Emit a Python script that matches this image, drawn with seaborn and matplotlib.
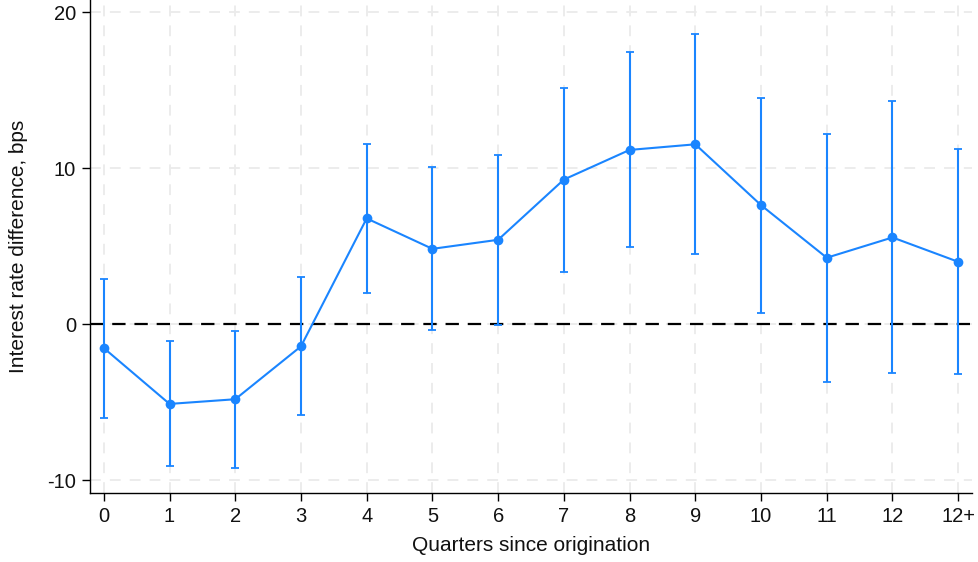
import matplotlib
matplotlib.use("Agg")
import matplotlib.pyplot as plt
import seaborn as sns
import pandas as pd
import numpy as np

# Estimated interest rate differences (bps) by quarters since origination, with 95% CIs
quarters = ["0", "1", "2", "3", "4", "5", "6", "7", "8", "9", "10", "11", "12", "12+"]
estimate = [-1.54, -5.12, -4.82, -1.43, 6.77, 4.82, 5.40, 9.26, 11.16, 11.52, 7.62, 4.25, 5.55, 3.99]
ci_low = [-6.00, -9.13, -9.22, -5.83, 1.96, -0.41, -0.04, 3.35, 4.93, 4.50, 0.70, -3.71, -3.16, -3.20]
ci_high = [2.88, -1.07, -0.43, 2.99, 11.54, 10.07, 10.86, 15.15, 17.43, 18.57, 14.51, 12.21, 14.28, 11.22]
y_ticks = [-10, 0, 10, 20]

df = pd.DataFrame({
    "pos": np.arange(len(quarters)),
    "quarter": quarters,
    "estimate": estimate,
    "lo": ci_low,
    "hi": ci_high,
})

sns.set_theme(style="white")
plt.rcParams["font.family"] = ["Liberation Sans", "DejaVu Sans"]

blue = "#1a85ff"
fig = plt.figure(figsize=(9.79, 5.62), dpi=100)
ax = fig.add_axes([90 / 979, 69 / 562, (972 - 90) / 979, 493 / 562])

# light dashed grid at every tick
for p in df["pos"]:
    ax.axvline(p, color="#ebebeb", lw=1.3, dashes=(6, 5), zorder=0)
for t in y_ticks:
    ax.axhline(t, color="#ebebeb", lw=1.3, dashes=(6, 5), zorder=0)

# zero reference line
ax.axhline(0, color="black", lw=1.6, dashes=(6, 4), zorder=1)

# confidence intervals
ax.errorbar(df["pos"], df["estimate"],
            yerr=[df["estimate"] - df["lo"], df["hi"] - df["estimate"]],
            fmt="none", ecolor=blue, elinewidth=1.5, capsize=3, capthick=1.3, zorder=2)

# point estimates connected by a line
sns.lineplot(data=df, x="pos", y="estimate", color=blue, lw=1.5,
             marker="o", markersize=7, markeredgewidth=0, ax=ax, zorder=3)

ax.set_xlim(-0.21, 13.21)
ax.set_ylim(-10.83, 20.77)
ax.set_xticks(df["pos"])
ax.set_xticklabels(quarters)
ax.set_yticks(y_ticks)
ax.set_yticklabels([str(t) for t in y_ticks])

ax.tick_params(axis="both", which="both", direction="out", length=6, width=1,
               color="black", labelsize=14.5, labelcolor="#111111", pad=4,
               left=True, bottom=True)

for side in ["top", "right"]:
    ax.spines[side].set_visible(False)
for side in ["left", "bottom"]:
    ax.spines[side].set_color("black")
    ax.spines[side].set_linewidth(1.0)

ax.set_xlabel("Quarters since origination", fontsize=15, color="#111111", labelpad=7)
ax.set_ylabel("Interest rate difference, bps", fontsize=15, color="#111111")
ax.yaxis.set_label_coords(-0.07, 0.5)
ax.grid(False)

fig.savefig("out.png", dpi=100)
